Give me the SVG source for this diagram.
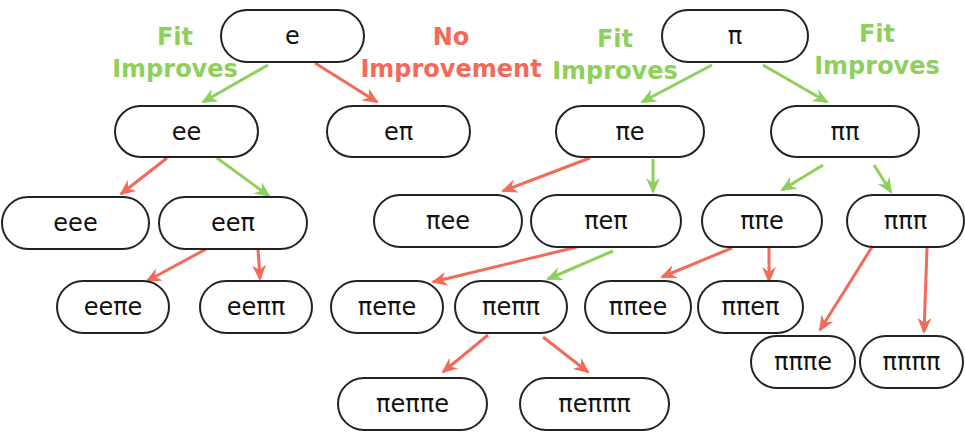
<svg xmlns="http://www.w3.org/2000/svg" width="965" height="433" viewBox="0 0 965 433">
<style>
.n rect{fill:#fff;stroke:#222;stroke-width:2}
.n text{font-family:"DejaVu Sans",sans-serif;font-size:24px;fill:#111;text-anchor:middle}
.lab{font-family:"DejaVu Sans",sans-serif;font-size:24px;font-weight:bold;text-anchor:middle}
.g{fill:#8fd05c}
.r{fill:#f26a5a}
.cg{stroke:#8fd05c;stroke-width:3;fill:none;marker-end:url(#ag)}
.cr{stroke:#f26a5a;stroke-width:3;fill:none;marker-end:url(#ar)}
</style>
<defs>
<marker id="ag" viewBox="0 0 16 16" refX="14" refY="8" markerWidth="16" markerHeight="16" markerUnits="userSpaceOnUse" orient="auto"><path d="M0,1 L16,8 L0,15 L5,8 z" fill="#8fd05c"/></marker>
<marker id="ar" viewBox="0 0 16 16" refX="14" refY="8" markerWidth="16" markerHeight="16" markerUnits="userSpaceOnUse" orient="auto"><path d="M0,1 L16,8 L0,15 L5,8 z" fill="#f26a5a"/></marker>
</defs>
<g id="labels">
<text class="lab g" x="175" y="45">Fit</text>
<text class="lab g" x="175" y="77">Improves</text>
<text class="lab r" x="451" y="45">No</text>
<text class="lab r" x="451" y="77">Improvement</text>
<text class="lab g" x="615" y="47">Fit</text>
<text class="lab g" x="615" y="79">Improves</text>
<text class="lab g" x="877" y="42">Fit</text>
<text class="lab g" x="877" y="74">Improves</text>
</g>
<g id="connectors">
<line class="cg" x1="268" y1="65" x2="203" y2="102"/>
<line class="cr" x1="315" y1="63" x2="377" y2="102"/>
<line class="cg" x1="712" y1="65" x2="642" y2="102"/>
<line class="cg" x1="763" y1="65" x2="827" y2="102"/>
<line class="cr" x1="167" y1="158" x2="121" y2="194"/>
<line class="cg" x1="217" y1="158" x2="269" y2="196"/>
<line class="cr" x1="208" y1="248" x2="147" y2="281"/>
<line class="cr" x1="258" y1="249" x2="260" y2="279"/>
<line class="cr" x1="590" y1="158" x2="503" y2="191"/>
<line class="cg" x1="653" y1="159" x2="653" y2="192"/>
<line class="cr" x1="585" y1="245" x2="433" y2="282"/>
<line class="cg" x1="613" y1="251" x2="548" y2="279"/>
<line class="cr" x1="732" y1="248" x2="662" y2="277"/>
<line class="cr" x1="769" y1="248" x2="769" y2="281"/>
<line class="cg" x1="823" y1="165" x2="782" y2="190"/>
<line class="cg" x1="874" y1="165" x2="891" y2="192"/>
<line class="cr" x1="872" y1="247" x2="820" y2="330"/>
<line class="cr" x1="927" y1="248" x2="924" y2="332"/>
<line class="cr" x1="488" y1="335" x2="443" y2="372"/>
<line class="cr" x1="543" y1="337" x2="588" y2="372"/>
</g>
<g id="n-e" class="n"><rect x="221" y="10" width="143" height="52" rx="26"/><text x="292.5" y="44">e</text></g>
<g id="n-pi" class="n"><rect x="662" y="10" width="146" height="52" rx="26"/><text x="735" y="44">π</text></g>
<g id="n-ee" class="n"><rect x="115" y="106" width="143" height="51" rx="25.5"/><text x="186.5" y="140">ee</text></g>
<g id="n-epi" class="n"><rect x="327" y="106" width="143" height="51" rx="25.5"/><text x="398.5" y="140">eπ</text></g>
<g id="n-pie" class="n"><rect x="556" y="106" width="148" height="51" rx="25.5"/><text x="630" y="140">πe</text></g>
<g id="n-pipi" class="n"><rect x="771" y="106" width="148" height="51" rx="25.5"/><text x="845" y="140">ππ</text></g>
<g id="n-eee" class="n"><rect x="2" y="197" width="147" height="52" rx="26"/><text x="75.5" y="231">eee</text></g>
<g id="n-eepi" class="n"><rect x="159" y="197" width="148" height="52" rx="26"/><text x="233" y="231">eeπ</text></g>
<g id="n-piee" class="n"><rect x="374" y="195" width="148" height="52" rx="26"/><text x="448" y="229">πee</text></g>
<g id="n-piepi" class="n"><rect x="531" y="195" width="150" height="52" rx="26"/><text x="606" y="229">πeπ</text></g>
<g id="n-pipie" class="n"><rect x="702" y="195" width="120" height="52" rx="26"/><text x="762" y="229">ππe</text></g>
<g id="n-pipipi" class="n"><rect x="847" y="195" width="117" height="52" rx="26"/><text x="905.5" y="229">πππ</text></g>
<g id="n-eepie" class="n"><rect x="57" y="281" width="112" height="52" rx="26"/><text x="113" y="315">eeπe</text></g>
<g id="n-eepipi" class="n"><rect x="200" y="281" width="112" height="52" rx="26"/><text x="256" y="315">eeππ</text></g>
<g id="n-piepie" class="n"><rect x="331" y="281" width="112" height="52" rx="26"/><text x="387" y="315">πeπe</text></g>
<g id="n-piepipi" class="n"><rect x="455" y="281" width="112" height="52" rx="26"/><text x="511" y="315">πeππ</text></g>
<g id="n-pipiee" class="n"><rect x="585" y="281" width="106" height="52" rx="26"/><text x="638" y="315">ππee</text></g>
<g id="n-pipiepi" class="n"><rect x="698" y="281" width="105" height="52" rx="26"/><text x="750.5" y="315">ππeπ</text></g>
<g id="n-pipipie" class="n"><rect x="751" y="336" width="104" height="52" rx="26"/><text x="803" y="370">πππe</text></g>
<g id="n-pipipipi" class="n"><rect x="860" y="336" width="103" height="52" rx="26"/><text x="911.5" y="370">ππππ</text></g>
<g id="n-piepipie" class="n"><rect x="338" y="378" width="149" height="52" rx="26"/><text x="412.5" y="412">πeππe</text></g>
<g id="n-piepipipi" class="n"><rect x="520" y="378" width="149" height="52" rx="26"/><text x="594.5" y="412">πeπππ</text></g>
</svg>
